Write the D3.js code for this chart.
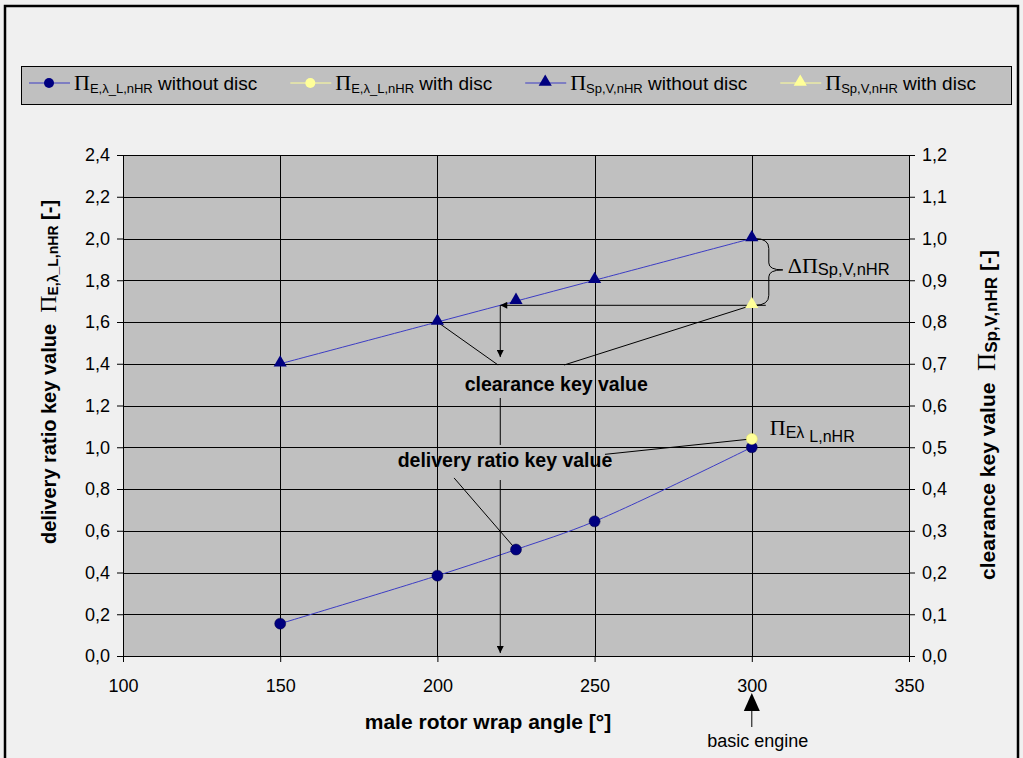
<!DOCTYPE html>
<html>
<head>
<meta charset="utf-8">
<script src="https://cdn.jsdelivr.net/npm/d3@7/dist/d3.min.js"></script>
<style>
  html, body { margin: 0; padding: 0; background: #f0f0f0; }
  svg { display: block; font-family: "Liberation Sans", Arial, sans-serif; }
  .serif { font-family: "Liberation Serif", "Times New Roman", serif; font-weight: normal; }
</style>
</head>
<body>
<svg id="chart" width="1023" height="758"></svg>
<script>
// wrap angle [deg] and key values
const angles = [150, 200, 225, 250, 300];
const deliveryNoDisc = [0.155, 0.385, 0.51, 0.645, 1.0];
const clearanceNoDisc = [0.70, 0.80, 0.85, 0.90, 1.0];
const discAngles = [300];
const deliveryDisc = [1.04];
const clearanceDisc = [0.84];

const xTicks = [100, 150, 200, 250, 300, 350];
const leftTicks = [0, 0.2, 0.4, 0.6, 0.8, 1.0, 1.2, 1.4, 1.6, 1.8, 2.0, 2.2, 2.4];
const rightTicks = [0, 0.1, 0.2, 0.3, 0.4, 0.5, 0.6, 0.7, 0.8, 0.9, 1.0, 1.1, 1.2];

const legendSubs = ["E,\u03bb_L,nHR", "E,\u03bb_L,nHR", "Sp,V,nHR", "Sp,V,nHR"];
const legendNames = ["without disc", "with disc", "without disc", "with disc"];

const navy = "#000080", lineBlue = "#3c3cc4", yellow = "#ffff99";

const svg = d3.select("#chart");
const comma = v => d3.format(".1f")(v).replace(".", ",");

const x = d3.scaleLinear().domain([100, 350]).range([123, 909]);
const yL = d3.scaleLinear().domain([0, 2.4]).range([656, 155]);
const yR = d3.scaleLinear().domain([0, 1.2]).range([656, 155]);

// outer frame
svg.append("path")
  .attr("d", "M5,760 L5,6 L1018,6 L1018,760")
  .attr("fill", "none").attr("stroke", "#000").attr("stroke-width", 2.5);

// arrow heads
const defs = svg.append("defs");
defs.append("marker").attr("id", "arr")
  .attr("viewBox", "0 0 10 10").attr("refX", 10).attr("refY", 5)
  .attr("markerWidth", 9).attr("markerHeight", 7).attr("markerUnits", "userSpaceOnUse")
  .attr("orient", "auto")
  .append("path").attr("d", "M0,0 L10,5 L0,10 Z").attr("fill", "#000");

// plot area
svg.append("rect")
  .attr("x", x(100)).attr("y", yL(2.4))
  .attr("width", x(350) - x(100)).attr("height", yL(0) - yL(2.4))
  .attr("fill", "#c0c0c0");

const grid = svg.append("g").attr("stroke", "#000").attr("stroke-width", 1);
grid.selectAll(".h").data(leftTicks.slice(1)).join("line")
  .attr("x1", x(100)).attr("x2", x(350))
  .attr("y1", d => Math.round(yL(d)) + 0.5).attr("y2", d => Math.round(yL(d)) + 0.5);
grid.selectAll(".v").data(xTicks.slice(1, -1)).join("line")
  .attr("y1", yL(2.4)).attr("y2", yL(0))
  .attr("x1", d => Math.round(x(d)) + 0.5).attr("x2", d => Math.round(x(d)) + 0.5);

// axes
function styleAxis(g) {
  g.selectAll("path, line").attr("stroke", "#000");
  g.selectAll("text").attr("fill", "#000").style("font-size", "18px")
    .style("font-family", "'Liberation Sans', Arial, sans-serif");
}
svg.append("g").attr("transform", `translate(${x(100)},0)`)
  .call(d3.axisLeft(yL).tickValues(leftTicks).tickFormat(comma).tickSize(6).tickSizeOuter(0).tickPadding(7))
  .call(styleAxis);
svg.append("g").attr("transform", `translate(${x(350)},0)`)
  .call(d3.axisRight(yR).tickValues(rightTicks).tickFormat(comma).tickSize(6).tickSizeOuter(0).tickPadding(7))
  .call(styleAxis);
svg.append("g").attr("transform", `translate(0,${yL(0)})`)
  .call(d3.axisBottom(x).tickValues(xTicks).tickSize(6).tickSizeOuter(0).tickPadding(17))
  .call(styleAxis);

// series
const smooth = d3.line().curve(d3.curveCatmullRom.alpha(0.5));
const delivPts = angles.map((a, i) => [x(a), yL(deliveryNoDisc[i])]);
const clearPts = angles.map((a, i) => [x(a), yR(clearanceNoDisc[i])]);

svg.append("path").attr("d", smooth(clearPts)).attr("fill", "none").attr("stroke", lineBlue).attr("stroke-width", 1);
svg.append("path").attr("d", smooth(delivPts)).attr("fill", "none").attr("stroke", lineBlue).attr("stroke-width", 1);

const tri = d3.symbol().type(d3.symbolTriangle).size(75);

// annotation lines (drawn under the markers)
const ann = svg.append("g").attr("stroke", "#000").attr("fill", "none").attr("stroke-width", 1);
const xa = x(220);
// clearance difference arrow
ann.append("line")
  .attr("x1", x(300) + 14).attr("y1", yR(0.84))
  .attr("x2", xa).attr("y2", yR(0.84)).attr("marker-end", "url(#arr)");
ann.append("line")
  .attr("x1", xa).attr("y1", yR(0.84))
  .attr("x2", xa).attr("y2", yL(1.432)).attr("marker-end", "url(#arr)");
ann.append("line").attr("x1", xa).attr("x2", xa).attr("y1", yL(1.236)).attr("y2", yL(1.011));
ann.append("line").attr("x1", xa).attr("x2", xa).attr("y1", yL(0.843)).attr("y2", yL(0.014)).attr("marker-end", "url(#arr)");
// clearance callouts
ann.append("line").attr("x1", x(200)).attr("y1", yR(0.8)).attr("x2", x(219.3)).attr("y2", yL(1.394));
ann.append("line").attr("x1", x(240.3)).attr("y1", yL(1.394)).attr("x2", x(300)).attr("y2", yR(0.84));
// delivery callouts
ann.append("line").attr("x1", x(205.3)).attr("y1", yL(0.853)).attr("x2", x(225)).attr("y2", yL(0.51));
ann.append("line").attr("x1", x(253.3)).attr("y1", yL(0.966)).attr("x2", x(300)).attr("y2", yL(1.04));

// brace between the two clearance values at 300
{
  const bx = x(300) + 3, top = yR(1.0), bot = yR(0.84), mid = (top + bot) / 2 - 2;
  ann.append("path").attr("d",
    `M${bx},${top} Q${bx + 14},${top} ${bx + 14},${top + 10} L${bx + 14},${mid - 7}` +
    ` Q${bx + 14},${mid} ${bx + 28},${mid} Q${bx + 14},${mid} ${bx + 14},${mid + 7}` +
    ` L${bx + 14},${bot - 10} Q${bx + 14},${bot} ${bx},${bot}`);
}

// markers
svg.append("g").selectAll("path").data(clearPts).join("path")
  .attr("transform", d => `translate(${d[0]},${d[1] - 1})`).attr("d", tri).attr("fill", navy);
svg.append("g").selectAll("circle").data(delivPts).join("circle")
  .attr("cx", d => d[0]).attr("cy", d => d[1]).attr("r", 5.5).attr("fill", navy).attr("stroke", "#000040").attr("stroke-width", 0.5);
svg.append("g").selectAll("path").data(discAngles.map((a, i) => [x(a), yR(clearanceDisc[i])])).join("path")
  .attr("transform", d => `translate(${d[0]},${d[1] - 1})`).attr("d", tri).attr("fill", yellow);
svg.append("g").selectAll("circle").data(discAngles.map((a, i) => [x(a), yL(deliveryDisc[i])])).join("circle")
  .attr("cx", d => d[0]).attr("cy", d => d[1]).attr("r", 5.5).attr("fill", yellow).attr("stroke", "#e8e860").attr("stroke-width", 0.5);

// annotation texts
svg.append("text").attr("x", x(237.8)).attr("y", yL(1.271)).attr("text-anchor", "middle")
  .style("font-size", "19.5px").style("font-weight", "bold").text("clearance key value");
svg.append("text").attr("x", x(221.5)).attr("y", yL(0.907)).attr("text-anchor", "middle")
  .style("font-size", "19.5px").style("font-weight", "bold").text("delivery ratio key value");

{
  const t = svg.append("text").attr("x", x(300) + 36).attr("y", 273);
  t.append("tspan").attr("class", "serif").style("font-size", "22px").text("\u0394\u03a0");
  t.append("tspan").style("font-size", "16.5px").attr("dy", 2).text("Sp,V,nHR");
}
{
  const t = svg.append("text").attr("x", x(300) + 18).attr("y", 435);
  t.append("tspan").attr("class", "serif").style("font-size", "22px").text("\u03a0");
  t.append("tspan").style("font-size", "16px").attr("dy", 3).text("E\u03bb");
  t.append("tspan").style("font-size", "16px").attr("dx", 5).attr("dy", 4).text("L,nHR");
}

// axis titles
svg.append("text").attr("x", 488).attr("y", 729).attr("text-anchor", "middle")
  .style("font-size", "21px").style("font-weight", "bold").text("male rotor wrap angle [\u00b0]");

{
  const t = svg.append("text").attr("transform", "translate(56,372) rotate(-90)")
    .attr("text-anchor", "middle").style("font-size", "20px").style("font-weight", "bold");
  t.append("tspan").text("delivery ratio key value\u00a0\u00a0");
  t.append("tspan").attr("class", "serif").style("font-size", "24px").text("\u03a0");
  t.append("tspan").style("font-size", "14px").attr("dy", 2).text("E,\u03bb_L,nHR");
  t.append("tspan").attr("dy", -2).text(" [-]");
}
{
  const t = svg.append("text").attr("transform", "translate(995,415) rotate(-90)")
    .attr("text-anchor", "middle").style("font-size", "21px").style("font-weight", "bold");
  t.append("tspan").text("clearance key value\u00a0\u00a0");
  t.append("tspan").attr("class", "serif").style("font-size", "25px").text("\u03a0");
  t.append("tspan").style("font-size", "17px").attr("dy", 2).text("Sp,V,nHR");
  t.append("tspan").attr("dy", -2).text(" [-]");
}

// basic engine marker under the 300 tick
{
  const bxp = x(300);
  svg.append("path").attr("d", `M${bxp},693 L${bxp - 8},711 L${bxp + 8},711 Z`).attr("fill", "#000");
  svg.append("line").attr("x1", bxp).attr("x2", bxp).attr("y1", 711).attr("y2", 727).attr("stroke", "#000");
  svg.append("text").attr("x", bxp + 6).attr("y", 747).attr("text-anchor", "middle")
    .style("font-size", "18px").text("basic engine");
}

// legend
const leg = svg.append("g");
leg.append("rect").attr("x", 21.5).attr("y", 66.5).attr("width", 990).attr("height", 38)
  .attr("fill", "#c0c0c0").attr("stroke", "#000").attr("stroke-width", 1);
let lx = 29;
const ly = 83;
legendNames.forEach((name, i) => {
  const isDisc = i % 2 === 1;
  const lc = isDisc ? yellow : lineBlue;
  const mc = isDisc ? yellow : navy;
  leg.append("line").attr("x1", lx).attr("x2", lx + 41).attr("y1", ly).attr("y2", ly).attr("stroke", lc);
  if (i < 2) {
    leg.append("circle").attr("cx", lx + 20).attr("cy", ly).attr("r", 5).attr("fill", mc);
  } else {
    leg.append("path").attr("transform", `translate(${lx + 20},${ly - 1})`).attr("d", tri).attr("fill", mc);
  }
  const t = leg.append("text").attr("x", lx + 45).attr("y", 90);
  t.append("tspan").attr("class", "serif").style("font-size", "22px").text("\u03a0");
  t.append("tspan").style("font-size", "13px").attr("dy", 3).text(legendSubs[i]);
  t.append("tspan").style("font-size", "19px").attr("dy", -3).text(" " + name);
  lx += 45 + t.node().getComputedTextLength() + 33;
});
</script>
</body>
</html>
